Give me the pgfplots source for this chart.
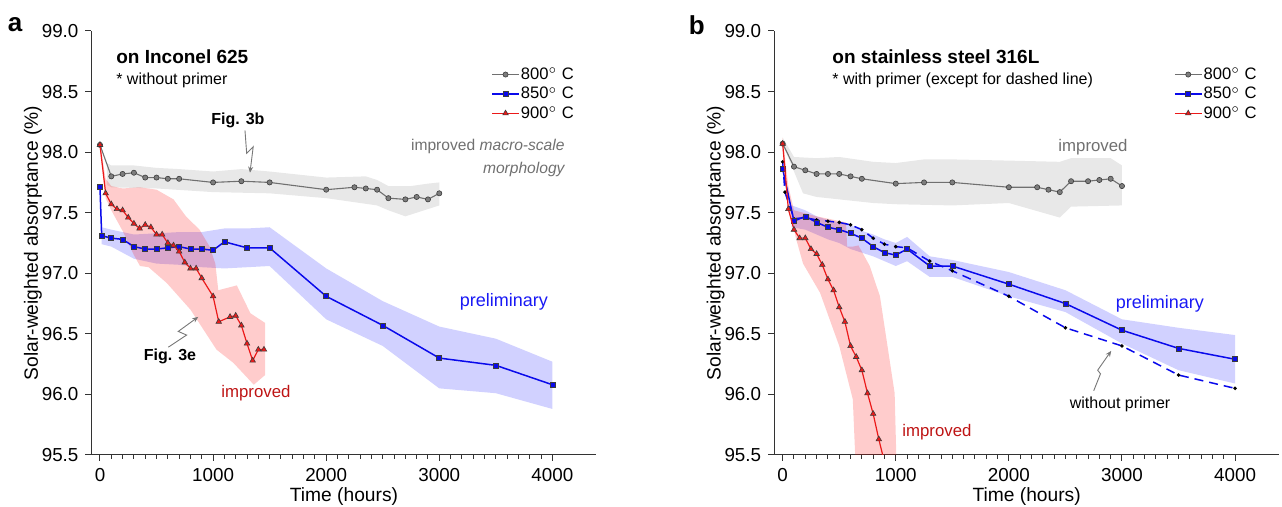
\documentclass[border=0pt]{standalone}
\usepackage{fontspec}
\setmainfont{Liberation Sans}
\usepackage{pgfplots}
\pgfplotsset{compat=1.18}
\usetikzlibrary{arrows.meta}
\definecolor{cgray}{RGB}{112,112,112}
\definecolor{cgraymk}{RGB}{125,125,125}
\definecolor{cblue}{RGB}{10,10,235}
\definecolor{cred}{RGB}{235,25,25}
\definecolor{cdred}{RGB}{190,20,20}
\definecolor{cpblue}{RGB}{25,25,245}
\definecolor{cedge}{RGB}{60,60,60}
\definecolor{cann}{RGB}{120,120,120}
\pgfplotsset{
 panel/.style={
  scale only axis, width=252.5pt, height=212pt,
  xmin=-75, xmax=4390, ymin=95.5, ymax=99.0,
  axis x line*=bottom, axis y line*=left,
  axis line style={line width=0.5pt, black!80},
  xtick={0,1000,2000,3000,4000}, minor x tick num=9,
  ytick={95.5,96,96.5,97,97.5,98,98.5,99},
  y tick label style={/pgf/number format/.cd, fixed, fixed zerofill, precision=1, /tikz/.cd},
  x tick label style={/pgf/number format/.cd, 1000 sep={}, /tikz/.cd},
  /pgf/number format/assume math mode=true,
  tick align=outside, major tick length=3pt, minor tick length=1.8pt,
  tick style={line width=0.5pt, black!80},
  ticklabel style={font=\fontsize{9.4}{11}\selectfont},
  label style={font=\fontsize{9.6}{11}\selectfont},
  xlabel={Time (hours)}, ylabel={Solar-weighted absorptance (\%)},
  xlabel style={at={(axis description cs:0.5,-0.099)}, anchor=center},
  ylabel style={at={(axis description cs:-0.116,0.5)}, anchor=center},
  clip mode=individual,
  legend style={at={(axis description cs:0.779,0.927)}, anchor=north west, draw=none, fill=none,
    font=\fontsize{8.3}{9}\selectfont, nodes={inner sep=0.6pt, text height=6pt, text depth=1pt},
    row sep=1.5pt},
  legend cell align=left,
  legend image code/.code={\draw[mark repeat=2,mark phase=2] plot coordinates {(0pt,0pt) (6.75pt,0pt) (13.5pt,0pt)};},
 },
 grayl/.style={cgray, line width=0.55pt, mark=*, mark size=1.3pt, mark options={fill=cgraymk, draw=cedge, line width=0.3pt}},
 bluel/.style={cblue, line width=0.75pt, mark=square*, mark size=1.25pt, mark options={fill=cblue, draw=cedge, line width=0.3pt}},
 redl/.style={cred, line width=0.6pt, mark=triangle*, mark size=1.6pt, mark options={fill=cred, draw=cedge, line width=0.3pt}},
 grayband/.style={fill=black, fill opacity=0.09, draw=none, forget plot},
 blueband/.style={fill=blue, fill opacity=0.18, draw=none, forget plot},
 redband/.style={fill=red, fill opacity=0.2, draw=none, forget plot},
}
\begin{document}
\begin{tikzpicture}
\useasboundingbox (0pt,0pt) rectangle (641pt,253.5pt);
% ---------------- panel a ----------------
\begin{axis}[panel, at={(45.75pt,26pt)}, anchor=south west]
\addplot[grayband] coordinates {(60,97.91)(100,97.89)(300,97.89)(500,97.87)(700,97.86)(1000,97.84)(1250,97.86)(1500,97.84)(2000,97.79)(2350,97.80)(2450,97.77)(2550,97.72)(2750,97.72)(2900,97.74)(3000,97.75)
 (3000,97.56)(2900,97.53)(2700,97.47)(2550,97.52)(2450,97.56)(2000,97.62)(1500,97.66)(1000,97.67)(500,97.70)(100,97.71)(60,97.73)} -- cycle;
\addplot[blueband] coordinates {(15,97.38)(100,97.36)(300,97.32)(500,97.33)(700,97.34)(900,97.34)(1100,97.37)(1300,97.37)(1500,97.38)(2000,97.04)(2500,96.77)(3000,96.56)(3500,96.46)(4000,96.27)
 (4000,95.88)(3500,96.01)(3000,96.05)(2500,96.40)(2000,96.62)(1500,97.06)(1300,97.05)(1100,97.04)(900,97.05)(700,97.07)(500,97.08)(300,97.12)(100,97.22)(15,97.24)} -- cycle;
\addplot[redband] coordinates {(0,98.08)(50,97.78)(100,97.72)(200,97.70)(350,97.71)(500,97.69)(650,97.61)(760,97.47)(880,97.36)(970,97.22)(1020,97.08)(1046,96.86)(1210,96.90)(1330,96.67)(1460,96.59)
 (1460,96.16)(1360,96.08)(1180,96.26)(1030,96.37)(800,96.70)(590,96.92)(430,97.05)(354,97.06)(300,97.15)(200,97.35)(100,97.52)(50,97.62)(0,98.02)} -- cycle;
\addplot[grayl, forget plot] coordinates {(0,98.06)(100,97.80)(200,97.82)(300,97.83)(400,97.79)(500,97.79)(600,97.78)(700,97.78)(1000,97.75)(1250,97.76)(1500,97.75)(2000,97.69)(2250,97.71)(2350,97.70)(2450,97.69)(2550,97.62)(2700,97.61)(2800,97.63)(2900,97.61)(3000,97.66)};
\addplot[bluel, forget plot] coordinates {(0,97.71)(15,97.31)(100,97.29)(200,97.28)(300,97.22)(400,97.20)(500,97.20)(600,97.21)(700,97.22)(800,97.20)(900,97.20)(1000,97.19)(1100,97.26)(1300,97.21)(1500,97.21)(2000,96.81)(2500,96.57)(3000,96.30)(3500,96.24)(4000,96.08)};
\addplot[redl, forget plot] coordinates {(0,98.06)(50,97.66)(100,97.57)(150,97.53)(200,97.52)(250,97.46)(300,97.41)(350,97.37)(400,97.40)(450,97.38)(500,97.32)(550,97.32)(600,97.25)(650,97.23)(700,97.18)(750,97.09)(800,97.04)(850,97.04)(900,96.96)(1000,96.81)(1050,96.60)(1150,96.64)(1200,96.65)(1250,96.57)(1300,96.42)(1350,96.28)(1400,96.37)(1450,96.37)};
\addlegendimage{grayl}\addlegendentry{800$^\circ$ C}
\addlegendimage{bluel}\addlegendentry{850$^\circ$ C}
\addlegendimage{redl}\addlegendentry{900$^\circ$ C}
\node[font=\bfseries\fontsize{13}{15}\selectfont] at (axis description cs:-0.1515,1.014) {a};
\node[anchor=west, inner sep=0pt, font=\bfseries\fontsize{9.5}{11}\selectfont] at (axis cs:141,98.785) {on Inconel 625};
\node[anchor=west, inner sep=0pt, font=\fontsize{8}{9}\selectfont] at (axis cs:141,98.595) {* without primer};
\node[font=\bfseries\fontsize{8}{9}\selectfont] at (axis cs:1220,98.265) {Fig. 3b};
\draw[cann, line width=0.45pt, -{Stealth[length=3pt,width=2.5pt]}] (axis cs:1282,98.18) -- (axis cs:1297,97.99) -- (axis cs:1355,98.045) -- (axis cs:1326,97.83);
\node[anchor=east, inner sep=0pt, cgray, font=\fontsize{7.8}{9}\selectfont] at (axis cs:4111,98.05) {improved \textit{macro-scale}};
\node[anchor=east, inner sep=0pt, cgray, font=\itshape\fontsize{7.8}{9}\selectfont] at (axis cs:4111,97.853) {morphology};
\node[cpblue, font=\fontsize{9}{10}\selectfont] at (axis cs:3572,96.763) {preliminary};
\node[font=\bfseries\fontsize{8}{9}\selectfont] at (axis cs:619,96.31) {Fig. 3e};
\draw[cann, line width=0.45pt, -{Stealth[length=3pt,width=2.5pt]}] (axis cs:604,96.39) -- (axis cs:766,96.49) -- (axis cs:692,96.52) -- (axis cs:869,96.64);
\node[cdred, font=\fontsize{8.4}{10}\selectfont] at (axis cs:1379,96.01) {improved};
\end{axis}
% ---------------- panel b ----------------
\begin{axis}[panel, at={(387.1pt,26pt)}, anchor=south west]
\addplot[grayband] coordinates {(0,98.12)(100,97.96)(300,97.95)(500,97.96)(800,97.92)(1000,97.91)(1250,97.94)(1500,97.94)(2000,97.93)(2450,97.92)(2550,97.95)(2900,97.95)(3000,97.89)
 (3000,97.56)(2550,97.55)(2450,97.46)(2000,97.58)(1500,97.56)(1000,97.57)(800,97.58)(500,97.61)(300,97.63)(180,97.66)(20,98.02)} -- cycle;
\addplot[blueband] coordinates {(80,97.56)(200,97.52)(300,97.47)(400,97.44)(600,97.40)(700,97.35)(800,97.32)(900,97.28)(1000,97.25)(1100,97.30)(1300,97.14)(1500,97.11)(2000,97.01)(2500,96.86)(3000,96.62)(3500,96.55)(4000,96.49)
 (4000,96.09)(3500,96.20)(3000,96.42)(2500,96.68)(2000,96.81)(1500,96.97)(1300,96.97)(1100,97.10)(1000,97.06)(900,97.10)(800,97.14)(700,97.17)(600,97.20)(500,97.25)(400,97.28)(300,97.32)(200,97.36)(80,97.38)} -- cycle;
\addplot[redband] coordinates {(0,98.12)(50,97.72)(100,97.52)(300,97.47)(560,97.42)(570,97.22)(620,97.22)(670,97.23)(770,97.06)(860,96.81)(990,96.01)(1010,95.3)
 (650,95.3)(620,95.96)(500,96.40)(330,96.84)(180,97.08)(120,97.28)(70,97.47)(20,97.80)(0,98.02)} -- cycle;
\addplot[grayl, forget plot] coordinates {(0,98.07)(100,97.88)(200,97.85)(300,97.82)(400,97.82)(500,97.82)(600,97.80)(700,97.78)(1000,97.74)(1250,97.75)(1500,97.75)(2000,97.71)(2250,97.71)(2350,97.69)(2450,97.67)(2550,97.76)(2700,97.76)(2800,97.77)(2900,97.78)(3000,97.72)};
\addplot[cblue, line width=0.75pt, dash pattern=on 4.5pt off 3pt, mark=*, mark size=0.45pt, mark options={solid, fill=black, draw=black}, forget plot] coordinates {(0,97.92)(20,97.67)(100,97.45)(200,97.46)(300,97.44)(400,97.43)(500,97.42)(600,97.40)(700,97.36)(800,97.29)(900,97.24)(1000,97.22)(1100,97.21)(1300,97.10)(1500,97.02)(2000,96.81)(2500,96.55)(3000,96.40)(3500,96.16)(4000,96.05)};
\addplot[bluel, forget plot] coordinates {(0,97.86)(100,97.43)(200,97.47)(300,97.42)(400,97.38)(500,97.36)(600,97.33)(700,97.29)(800,97.22)(900,97.17)(1000,97.15)(1100,97.20)(1300,97.06)(1500,97.06)(2000,96.91)(2500,96.75)(3000,96.53)(3500,96.38)(4000,96.29)};
\addplot[redl, mark=none, forget plot] coordinates {(0,98.07)(50,97.53)(100,97.36)(150,97.29)(200,97.29)(250,97.20)(300,97.16)(350,97.07)(400,96.95)(450,96.86)(500,96.72)(550,96.60)(600,96.40)(650,96.31)(700,96.20)(750,96.01)(800,95.84)(850,95.63)(900,95.44)};
\addplot[redl, only marks, forget plot] coordinates {(0,98.07)(50,97.53)(100,97.36)(150,97.29)(200,97.29)(250,97.20)(300,97.16)(350,97.07)(400,96.95)(450,96.86)(500,96.72)(550,96.60)(600,96.40)(650,96.31)(700,96.20)(750,96.01)(800,95.84)(850,95.63)};
\addlegendimage{grayl}\addlegendentry{800$^\circ$ C}
\addlegendimage{bluel}\addlegendentry{850$^\circ$ C}
\addlegendimage{redl}\addlegendentry{900$^\circ$ C}
\node[font=\bfseries\fontsize{13}{15}\selectfont] at (axis description cs:-0.153,1.014) {b};
\node[anchor=west, inner sep=0pt, font=\bfseries\fontsize{9.5}{11}\selectfont] at (axis cs:436,98.785) {on stainless steel 316L};
\node[anchor=west, inner sep=0pt, font=\fontsize{8}{9}\selectfont] at (axis cs:436,98.595) {* with primer (except for dashed line)};
\node[cgray, font=\fontsize{8.4}{10}\selectfont] at (axis cs:2744,98.042) {improved};
\node[cpblue, font=\fontsize{9}{10}\selectfont] at (axis cs:3336,96.75) {preliminary};
\node[font=\fontsize{8}{9}\selectfont] at (axis cs:2983,95.92) {without primer};
\draw[cann, line width=0.45pt, -{Stealth[length=3pt,width=2.5pt]}] (axis cs:2750,96.03) -- (axis cs:2810,96.17) -- (axis cs:2785,96.20) -- (axis cs:2905,96.36);
\node[cdred, font=\fontsize{8.4}{10}\selectfont] at (axis cs:1364,95.69) {improved};
\end{axis}
\end{tikzpicture}
\end{document}
